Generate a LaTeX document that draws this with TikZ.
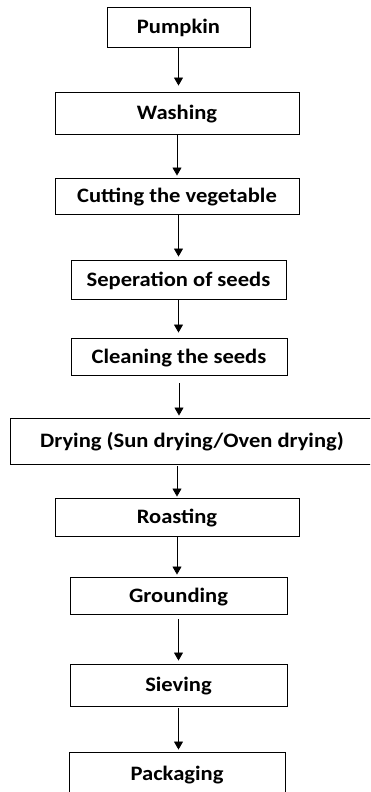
\documentclass[tikz,border=0pt]{standalone}
\usepackage{fontspec}
\setmainfont{Carlito}
\usetikzlibrary{arrows.meta}
\tikzset{
  stepbox/.style={draw=black, line width=0.9pt, inner sep=0pt, text height=13pt, text depth=0pt,
    font=\fontsize{20.5}{24}\selectfont\bfseries},
  arr/.style={draw=black, line width=0.8pt, -{Triangle[width=9pt,length=8pt]}}
}
\newcommand{\stx}[1]{\scalebox{1.1}[1]{#1}}
\begin{document}
\begin{tikzpicture}[x=1pt,y=-1pt]
\clip (0,0) rectangle (370,792);
\fill[white] (0,0) rectangle (370,792);
\node[stepbox, minimum width=143pt, minimum height=40pt] (pump) at (178.5,27) {\stx{Pumpkin}};
\node[stepbox, minimum width=244pt, minimum height=42pt] (wash) at (177,113) {\stx{Washing}};
\node[stepbox, minimum width=244pt, minimum height=36pt] (cut) at (177,196) {\stx{Cutting the vegetable}};
\node[stepbox, minimum width=215pt, minimum height=39pt] (sep) at (178.5,279.5) {\stx{Seperation of seeds}};
\node[stepbox, minimum width=216pt, minimum height=37pt] (clean) at (179,356.5) {\stx{Cleaning the seeds}};
\node[stepbox, minimum width=364pt, minimum height=46pt] (dry) at (192,441) {\stx{Drying (Sun drying/Oven drying)}};
\node[stepbox, minimum width=244pt, minimum height=38pt] (roast) at (177,517) {\stx{Roasting}};
\node[stepbox, minimum width=217pt, minimum height=37pt] (ground) at (178.5,595.5) {\stx{Grounding}};
\node[stepbox, minimum width=217pt, minimum height=42pt] (sieve) at (178.5,685) {\stx{Sieving}};
\node[stepbox, minimum width=216pt, minimum height=44pt] (pack) at (177,774) {\stx{Packaging}};
\draw[arr, shorten >=6pt] (pump.south) -- (pump.south |- wash.north);
\draw[arr, shorten >=2pt] (wash.south) -- (wash.south |- cut.north);
\draw[arr, shorten >=3pt] (cut.south -| sep.north) -- (sep.north);
\draw[arr, shorten >=5pt] (sep.south) -- (sep.south |- clean.north);
\draw[arr, shorten <=8pt, shorten >=2pt] (clean.south) -- (clean.south |- dry.north);
\draw[arr, shorten <=2pt, shorten >=1pt] (roast.north |- dry.south) -- (roast.north);
\draw[arr, shorten >=2pt] (roast.south) -- (roast.south |- ground.north);
\draw[arr, shorten <=5pt, shorten >=3pt] (ground.south) -- (ground.south |- sieve.north);
\draw[arr, shorten <=2pt, shorten >=2pt] (sieve.south) -- (sieve.south |- pack.north);
\end{tikzpicture}
\end{document}
